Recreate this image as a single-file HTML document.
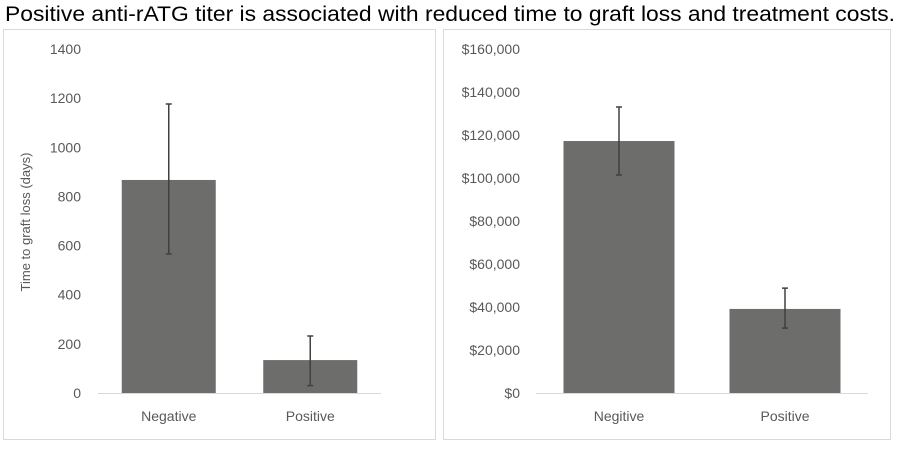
<!DOCTYPE html>
<html><head><meta charset="utf-8"><style>
body{margin:0;background:#fff;width:900px;height:447px;overflow:hidden;font-family:"Liberation Sans",sans-serif}
</style></head><body>
<svg id="svg" width="900" height="447" xmlns="http://www.w3.org/2000/svg">
<text x="5" y="21" font-size="21" fill="#000" textLength="890" lengthAdjust="spacingAndGlyphs">Positive anti-rATG titer is associated with reduced time to graft loss and treatment costs.</text>
<rect x="3.5" y="29.5" width="432" height="410" fill="#fff" stroke="#d9d9d9"/>
<rect x="443.5" y="29.5" width="447" height="410" fill="#fff" stroke="#d9d9d9"/>
<text transform="translate(30,222) rotate(-90)" text-anchor="middle" font-size="13" fill="#595959">Time to graft loss (days)</text>
<g id="left"></g><g id="right"></g>
</svg>
<script>
const leftCats=["Negative","Positive"];
const leftVals=[867,134];
const leftErrHi=[1176,232];
const leftErrLo=[566,30];
const leftTicks=[0,200,400,600,800,1000,1200,1400];
const rightCats=["Negitive","Positive"];
const rightVals=[117200,39100];
const rightErrHi=[133000,48800];
const rightErrLo=[101400,30200];
const rightTicks=[0,20000,40000,60000,80000,100000,120000,140000,160000];
const NS="http://www.w3.org/2000/svg";
function mk(g,tag,attrs,txt){const e=document.createElementNS(NS,tag);for(const k in attrs)e.setAttribute(k,attrs[k]);if(txt!=null)e.textContent=txt;g.appendChild(e);return e;}
function draw(gid,cats,vals,hi,lo,ticks,fmt,o){
  const g=document.getElementById(gid);
  const max=ticks[ticks.length-1];
  const y=v=>o.y0-(v/max)*(o.y0-o.yTop);
  const bandW=(o.x1-o.x0)/cats.length;
  ticks.forEach(t=>{
    const e=mk(g,'text',{x:o.labX,y:y(t)+5,'text-anchor':'end','font-size':14,fill:'#595959'},fmt(t));
    
    
  });
  cats.forEach((c,i)=>{
    const cx=o.x0+bandW*(i+0.5);
    const b=mk(g,'rect',{x:cx-o.bw/2,y:y(vals[i]),width:o.bw,height:o.y0-y(vals[i]),fill:'#6d6d6b'});
    
    
    const eb=mk(g,'path',{d:`M${cx},${y(hi[i])}V${y(lo[i])}M${cx-3},${y(hi[i])}H${cx+3}M${cx-3},${y(lo[i])}H${cx+3}`,stroke:'#404040','stroke-width':1.5,fill:'none'});
    
    
    const l=mk(g,'text',{x:cx,y:o.y0+28,'text-anchor':'middle','font-size':14,fill:'#595959'},c);
    
    
  });
  const ax=mk(g,'line',{x1:o.x0,x2:o.x1,y1:o.y0+0.5,y2:o.y0+0.5,stroke:'#d9d9d9','stroke-width':1});
  
  
}
draw('left',leftCats,leftVals,leftErrHi,leftErrLo,leftTicks,t=>String(t),{x0:98,x1:381,y0:393,yTop:49,bw:94,labX:81});
draw('right',rightCats,rightVals,rightErrHi,rightErrLo,rightTicks,t=>'$'+t.toLocaleString('en-US'),{x0:536,x1:868,y0:393,yTop:49,bw:111,labX:520});
</script>
</body></html>
